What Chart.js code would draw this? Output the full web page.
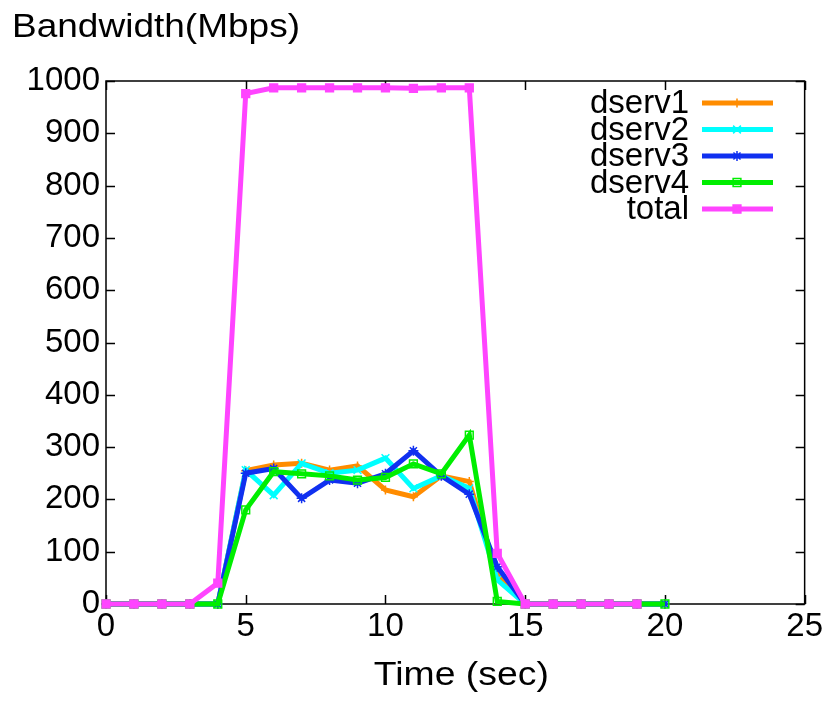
<!DOCTYPE html>
<html>
<head>
<meta charset="utf-8">
<script src="https://cdn.jsdelivr.net/npm/chart.js@4.4.1/dist/chart.umd.min.js"></script>
<style>
  html, body { margin: 0; padding: 0; background: #fff; }
  #wrap { width: 826px; height: 711px; }
</style>
</head>
<body>
<div id="wrap"><canvas id="myChart"></canvas></div>
<script>
// Data
const time = [0, 1, 2, 3, 4, 5, 6, 7, 8, 9, 10, 11, 12, 13, 14, 15, 16, 17, 18, 19, 20];
const dserv1 = [0, 0, 0, 0, 0, 255, 266, 269, 256, 264, 218, 205, 245, 234, 55, 0, 0, 0, 0, 0, 0];
const dserv2 = [0, 0, 0, 0, 0, 256, 208, 269, 250, 256, 279, 221, 245, 221, 46, 0, 0, 0, 0, 0, 0];
const dserv3 = [0, 0, 0, 0, 0, 250, 259, 202, 237, 231, 249, 293, 245, 210, 71, 0, 0, 0, 0, 0, 0];
const dserv4 = [0, 0, 0, 0, 0, 180, 253, 249, 245, 237, 242, 268, 249, 323, 5, 0, 0, 0, 0, 0, 0];
const total = [0, 0, 0, 0, 40, 976, 987, 987, 987, 987, 987, 986, 987, 987, 97, 0, 0, 0, 0, 0];

const xTicks = [0, 5, 10, 15, 20, 25];
const yTicks = [0, 100, 200, 300, 400, 500, 600, 700, 800, 900, 1000];

const FONT = "'Liberation Sans', Arial, sans-serif";

function pts(values) {
  return values.map((v, i) => ({ x: time[i], y: v }));
}

function series(label, values, color, style, radius, fill, order) {
  return {
    label: label,
    data: pts(values),
    borderColor: color,
    backgroundColor: color,
    borderWidth: 5,
    pointStyle: style,
    pointRadius: radius,
    pointBorderColor: color,
    pointBackgroundColor: fill,
    pointBorderWidth: 1.5,
    tension: 0,
    clip: false,
    order: order
  };
}

// text stretched to a given width (gnuplot's labels run a bit wide)
function wideText(ctx, text, x, y, width, align) {
  const w = ctx.measureText(text).width;
  const k = width / w;
  ctx.save();
  ctx.textAlign = 'left';
  const left = align === 'center' ? x - width / 2 : x;
  ctx.translate(left, y);
  ctx.scale(k, 1);
  ctx.fillText(text, 0, 0);
  ctx.restore();
}

// frame with inward ticks, like gnuplot
const framePlugin = {
  id: 'frame',
  beforeDatasetsDraw(chart) {
    const { ctx, chartArea: a, scales: { x, y } } = chart;
    ctx.save();
    ctx.strokeStyle = '#000';
    ctx.lineWidth = 1.5;
    ctx.strokeRect(a.left, a.top, a.right - a.left, a.bottom - a.top);
    const tl = 9;
    ctx.beginPath();
    xTicks.forEach(v => {
      const px = Math.round(x.getPixelForValue(v)) + 0.5;
      ctx.moveTo(px, a.bottom); ctx.lineTo(px, a.bottom - tl);
      ctx.moveTo(px, a.top); ctx.lineTo(px, a.top + tl);
    });
    yTicks.forEach(v => {
      const py = Math.round(y.getPixelForValue(v)) + 0.5;
      ctx.moveTo(a.left, py); ctx.lineTo(a.left + tl, py);
      ctx.moveTo(a.right, py); ctx.lineTo(a.right - tl, py);
    });
    ctx.stroke();
    ctx.restore();
  },
  afterDraw(chart) {
    const { ctx, chartArea: a } = chart;
    ctx.save();
    ctx.fillStyle = '#000';
    ctx.font = '33px ' + FONT;
    ctx.textBaseline = 'alphabetic';
    wideText(ctx, 'Bandwidth(Mbps)', 12, 37, 288, 'left');
    wideText(ctx, 'Time (sec)', (a.left + a.right) / 2 + 6, 685, 175, 'center');

    // legend: text right-aligned, then sample line with marker
    chart.data.datasets.forEach((ds, i) => {
      const yy = 103 + i * 26.5;
      ctx.fillStyle = '#000';
      ctx.textAlign = 'right';
      ctx.textBaseline = 'middle';
      ctx.fillText(ds.label, 689, yy + 1);
      ctx.strokeStyle = ds.borderColor;
      ctx.lineWidth = 5;
      ctx.beginPath();
      ctx.moveTo(702, yy); ctx.lineTo(773, yy);
      ctx.stroke();
      ctx.strokeStyle = ds.pointBorderColor;
      ctx.fillStyle = ds.pointBackgroundColor;
      ctx.lineWidth = ds.pointBorderWidth;
      Chart.helpers.drawPoint(ctx, {
        pointStyle: ds.pointStyle,
        radius: ds.pointRadius,
        borderWidth: ds.pointBorderWidth,
        rotation: 0
      }, 737, yy);
    });
    ctx.restore();
  }
};

const data = {
  datasets: [
    series('dserv1', dserv1, '#ff8c00', 'cross', 4.5, '#ff8c00', 5),
    series('dserv2', dserv2, '#00ffff', 'crossRot', 5.5, '#00ffff', 4),
    series('dserv3', dserv3, '#1030f0', 'star', 5, '#1030f0', 3),
    series('dserv4', dserv4, '#00ee00', 'rect', 5.5, 'rgba(0,0,0,0)', 2),
    series('total', total, '#ff44ff', 'rect', 5.5, '#ff44ff', 1)
  ]
};

const config = {
  type: 'line',
  data: data,
  options: {
    responsive: true,
    maintainAspectRatio: false,
    animation: false,
    layout: { padding: { top: 81, right: 21, left: 0, bottom: 0 } },
    plugins: {
      legend: { display: false },
      title: { display: false },
      tooltip: { enabled: false }
    },
    scales: {
      x: {
        type: 'linear',
        min: 0,
        max: 25,
        afterBuildTicks: s => { s.ticks = xTicks.map(v => ({ value: v })); },
        afterFit: s => { s.height = 107; },
        grid: { display: false, drawTicks: false },
        border: { display: false },
        ticks: {
          color: '#000',
          font: { family: FONT, size: 33 },
          padding: 3,
          maxRotation: 0,
          autoSkip: false
        },
        title: { display: false }
      },
      y: {
        min: 0,
        max: 1000,
        afterBuildTicks: s => { s.ticks = yTicks.map(v => ({ value: v })); },
        afterFit: s => { s.width = 106; },
        grid: { display: false, drawTicks: false },
        border: { display: false },
        ticks: {
          color: '#000',
          font: { family: FONT, size: 33 },
          padding: 6,
          callback: v => String(v)
        }
      }
    }
  },
  plugins: [framePlugin]
};

const ctx = document.getElementById('myChart').getContext('2d');
const myChart = new Chart(ctx, config);
</script>
</body>
</html>
